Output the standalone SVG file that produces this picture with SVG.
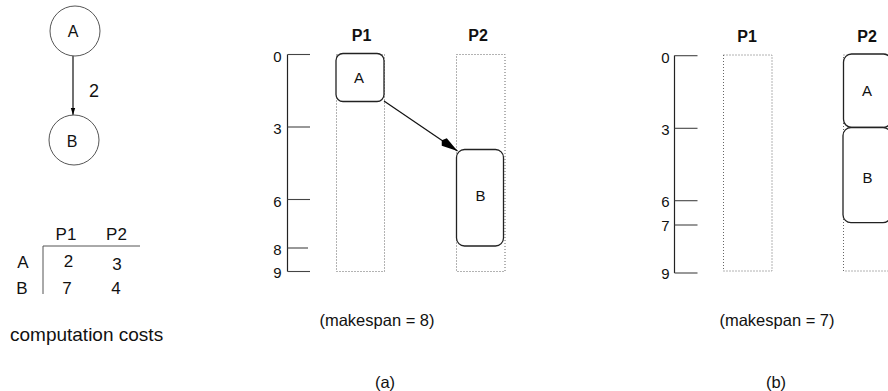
<svg xmlns="http://www.w3.org/2000/svg" width="888" height="391" viewBox="0 0 888 391">
<style>
text{font-family:"Liberation Sans",Arial,Helvetica,sans-serif;fill:#111}
.c{text-anchor:middle}
.e{text-anchor:end}
.t{font-size:16px;font-weight:bold;text-anchor:middle}
.ax{font-size:15px;text-anchor:end}
.bx{font-size:15px;text-anchor:middle}
.cap{font-size:16.5px;text-anchor:middle}
.node{fill:#fff;stroke:#222;stroke-width:1.3}
.circ{fill:#fff;stroke:#555;stroke-width:1}
.col{fill:none;stroke:#666;stroke-width:1;stroke-dasharray:1 2}
.axis{stroke:#222;stroke-width:1.2;fill:none}
.tick{stroke:#444;stroke-width:1.1}
.edge{stroke:#111;stroke-width:1.2;fill:none}
</style>
<defs>
<marker id="ah" markerWidth="20" markerHeight="10" refX="19" refY="5" orient="auto" markerUnits="userSpaceOnUse">
<path d="M19,5 L3,0.5 L0,5 L3,9.5 Z" fill="#000"/>
</marker>
<marker id="sh" markerWidth="8" markerHeight="6" refX="7" refY="3" orient="auto" markerUnits="userSpaceOnUse">
<path d="M7,3 L0,0.8 L0,5.2 Z" fill="#000"/>
</marker>
</defs>

<!-- task graph -->
<g id="graph-connectors">
<line class="edge" x1="73" y1="56" x2="73" y2="115" marker-end="url(#sh)"/>
<text x="94" y="96.5" class="c" style="font-size:18px">2</text>
</g>
<g id="node-A">
<circle class="circ" cx="75" cy="31" r="25"/>
<text x="73" y="37.3" class="c" style="font-size:16px">A</text>
</g>
<g id="node-B">
<circle class="circ" cx="74" cy="140" r="25"/>
<text x="72" y="146.5" class="c" style="font-size:16px">B</text>
</g>

<!-- cost table -->
<g id="cost-table" style="font-size:17px">
<line x1="43" y1="246" x2="140" y2="246" stroke="#555" stroke-width="1"/>
<line x1="43" y1="246" x2="43" y2="294" stroke="#555" stroke-width="1"/>
<text x="66" y="240" class="c">P1</text>
<text x="116.5" y="240" class="c">P2</text>
<text x="23" y="267.5" class="c">A</text>
<text x="68.5" y="267" class="c">2</text>
<text x="117" y="270" class="c">3</text>
<text x="22" y="294" class="c">B</text>
<text x="67" y="294" class="c">7</text>
<text x="116" y="294" class="c">4</text>
<text x="10" y="341" style="font-size:19px">computation costs</text>
</g>

<!-- schedule (a) -->
<g id="axis-a">
<line class="axis" x1="287.5" y1="54.5" x2="287.5" y2="271.5"/>
<line class="tick" x1="287.5" y1="54.5" x2="310" y2="54.5" stroke-width="1.6"/>
<line class="tick" x1="287.5" y1="127" x2="310" y2="127"/>
<line class="tick" x1="287.5" y1="199.5" x2="310" y2="199.5"/>
<line class="tick" x1="287.5" y1="248" x2="308" y2="248"/>
<line class="tick" x1="287.5" y1="271.5" x2="310" y2="271.5" stroke="#999"/>
<text class="ax" x="281.5" y="61.5">0</text>
<text class="ax" x="281.5" y="134">3</text>
<text class="ax" x="281.5" y="206.5">6</text>
<text class="ax" x="281.5" y="255">8</text>
<text class="ax" x="281.5" y="277.5">9</text>
</g>
<g id="columns-a">
<text class="t" x="361.5" y="41">P1</text>
<text class="t" x="478" y="41">P2</text>
<rect class="col" x="336.5" y="54.5" width="48" height="217"/>
<rect class="col" x="456.5" y="54.5" width="48.5" height="217"/>
</g>
<g id="connectors-a">
<line class="edge" x1="384" y1="101" x2="457.5" y2="151" marker-end="url(#ah)"/>
</g>
<g id="task-A-a">
<rect class="node" x="336" y="53.5" width="48" height="48" rx="7"/>
<text class="bx" x="359" y="82.5">A</text>
</g>
<g id="task-B-a">
<rect class="node" x="456.5" y="149.5" width="47" height="96.5" rx="8"/>
<text class="bx" x="480.5" y="201">B</text>
</g>
<text class="cap" x="377" y="326">(makespan = 8)</text>
<text class="cap" x="385" y="388">(a)</text>

<!-- schedule (b) -->
<g id="axis-b">
<line class="axis" x1="674.5" y1="55.5" x2="674.5" y2="273"/>
<line class="tick" x1="674.5" y1="55.7" x2="697.5" y2="55.7"/>
<line class="tick" x1="674.5" y1="128.3" x2="697.5" y2="128.3"/>
<line class="tick" x1="674.5" y1="200.7" x2="697.5" y2="200.7" stroke="#888"/>
<line class="tick" x1="674.5" y1="225" x2="697.5" y2="225" stroke="#111" stroke-width="1.5"/>
<line class="tick" x1="674.5" y1="273" x2="697.5" y2="273" stroke="#888"/>
<text class="ax" x="669.5" y="62.5">0</text>
<text class="ax" x="669.5" y="134.5">3</text>
<text class="ax" x="669.5" y="207">6</text>
<text class="ax" x="669.5" y="231">7</text>
<text class="ax" x="669.5" y="279">9</text>
</g>
<g id="columns-b">
<text class="t" x="747" y="42">P1</text>
<text class="t" x="867" y="42">P2</text>
<rect class="col" x="723.5" y="55" width="48.5" height="216"/>
<rect class="col" x="843.5" y="55" width="48" height="216"/>
</g>
<g id="task-A-b">
<rect class="node" x="843.5" y="54" width="48" height="73.3" rx="8"/>
<text class="bx" x="867" y="95.7">A</text>
</g>
<g id="task-B-b">
<rect class="node" x="843" y="127.5" width="48" height="95.2" rx="8"/>
<text class="bx" x="867.5" y="182.7">B</text>
</g>
<text class="cap" x="777" y="326">(makespan = 7)</text>
<text class="cap" x="776" y="388">(b)</text>
</svg>
